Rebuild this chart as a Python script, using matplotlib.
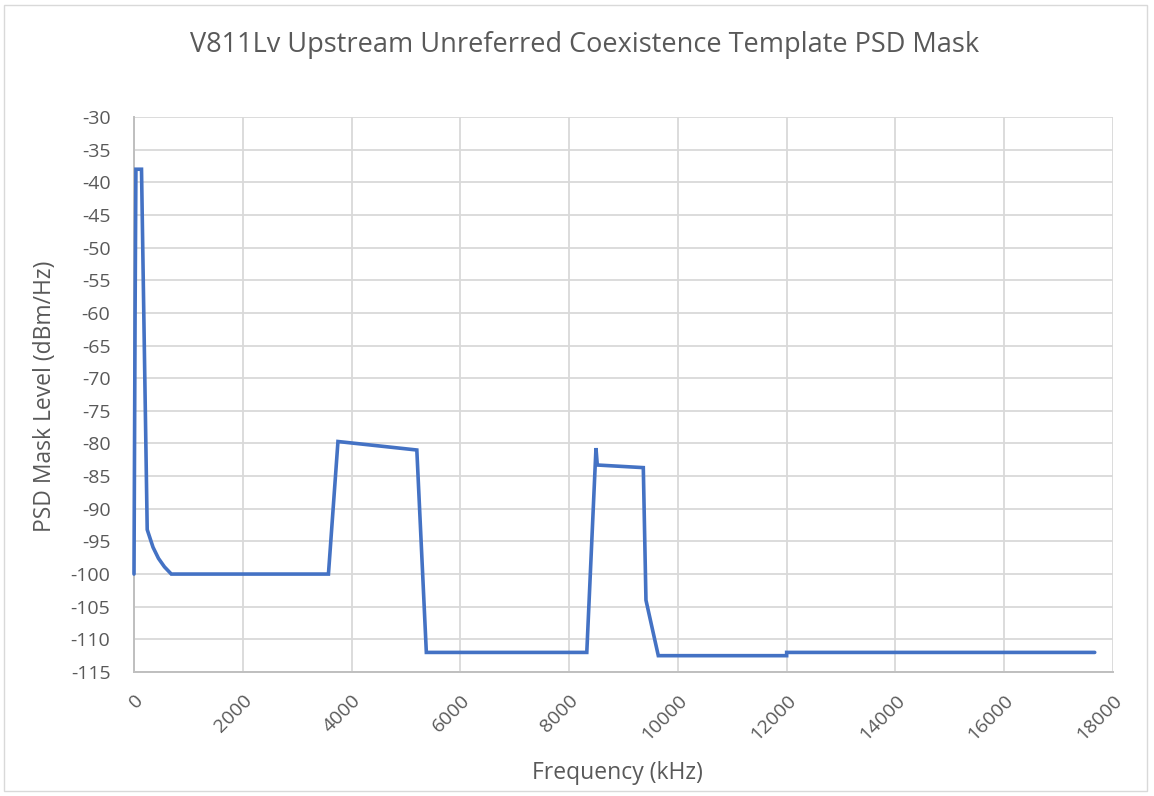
"""Recreate the V811Lv upstream unreferred coexistence PSD mask chart."""

import matplotlib

matplotlib.use("Agg")
import matplotlib.pyplot as plt
from matplotlib.patches import Rectangle

TITLE = "V811Lv Upstream Unreferred Coexistence Template PSD Mask"
X_LABEL = "Frequency (kHz)"
Y_LABEL = "PSD Mask Level (dBm/Hz)"

# breakpoints (kHz, dBm/Hz)
FREQ_KHZ = [0, 20, 35, 138, 243, 350, 450, 560, 686, 3575, 3750, 5200, 5375,
            8325, 8494, 8518, 9364, 9413, 9640, 12000, 12000, 17664]
PSD_DBM = [-100, -60, -38, -38, -93.2, -95.9, -97.6, -98.9, -100, -100, -79.7, -81.0, -112.0,
           -112.0, -80.7, -83.3, -83.7, -104.0, -112.5, -112.5, -112.0, -112.0]

X_TICKS = list(range(0, 18001, 2000))
Y_TICKS = list(range(-115, -29, 5))

LINE_COLOR = "#4472C4"
GRID_COLOR = "#d9d9d9"
TEXT_COLOR = "#595959"


def main() -> int:
    plt.rcParams["font.family"] = ["Open Sans", "DejaVu Sans"]
    plt.rcParams["axes.unicode_minus"] = False
    fig = plt.figure(figsize=(11.54, 7.96), dpi=100)
    W, H = 1154, 796
    ax = fig.add_axes([134 / W, 1 - 672 / H, (1113 - 134) / W, (672 - 117) / H])

    ax.plot(FREQ_KHZ, PSD_DBM, color=LINE_COLOR, linewidth=2.6, solid_joinstyle="miter",
            solid_capstyle="round", clip_on=False, zorder=3)

    ax.set_xlim(0, 18000)
    ax.set_ylim(-115, -30)
    ax.set_xticks(X_TICKS)
    ax.set_yticks(Y_TICKS)
    ax.set_xticklabels([str(t) for t in X_TICKS], rotation=45, ha="right", rotation_mode="anchor")
    ax.tick_params(axis="both", length=0, labelsize=14, colors=TEXT_COLOR)
    ax.tick_params(axis="y", pad=17)
    ax.tick_params(axis="x", pad=14)
    ax.grid(True, color=GRID_COLOR, linewidth=1.3)
    ax.set_axisbelow(True)
    for side in ("top", "right"):
        ax.spines[side].set_visible(False)
    for side in ("left", "bottom"):
        ax.spines[side].set_color("#bfbfbf")
        ax.spines[side].set_linewidth(1.4)

    fig.text(585 / W, 1 - 45 / H, TITLE, ha="center", va="center", fontsize=19.5, color=TEXT_COLOR)
    fig.text(617 / W, 1 - 773 / H, X_LABEL, ha="center", va="center", fontsize=16.5, color=TEXT_COLOR)
    fig.text(45 / W, 1 - 396 / H, Y_LABEL, ha="center", va="center", rotation=90, fontsize=16.5,
             color=TEXT_COLOR)

    fig.patches.append(Rectangle((4 / W, 5 / H), 1143 / W, 786 / H, transform=fig.transFigure,
                                 fill=False, edgecolor="#d9d9d9", linewidth=1.0))

    fig.savefig("out.png", dpi=100)
    plt.close(fig)
    return 0


if __name__ == "__main__":
    raise SystemExit(main())
